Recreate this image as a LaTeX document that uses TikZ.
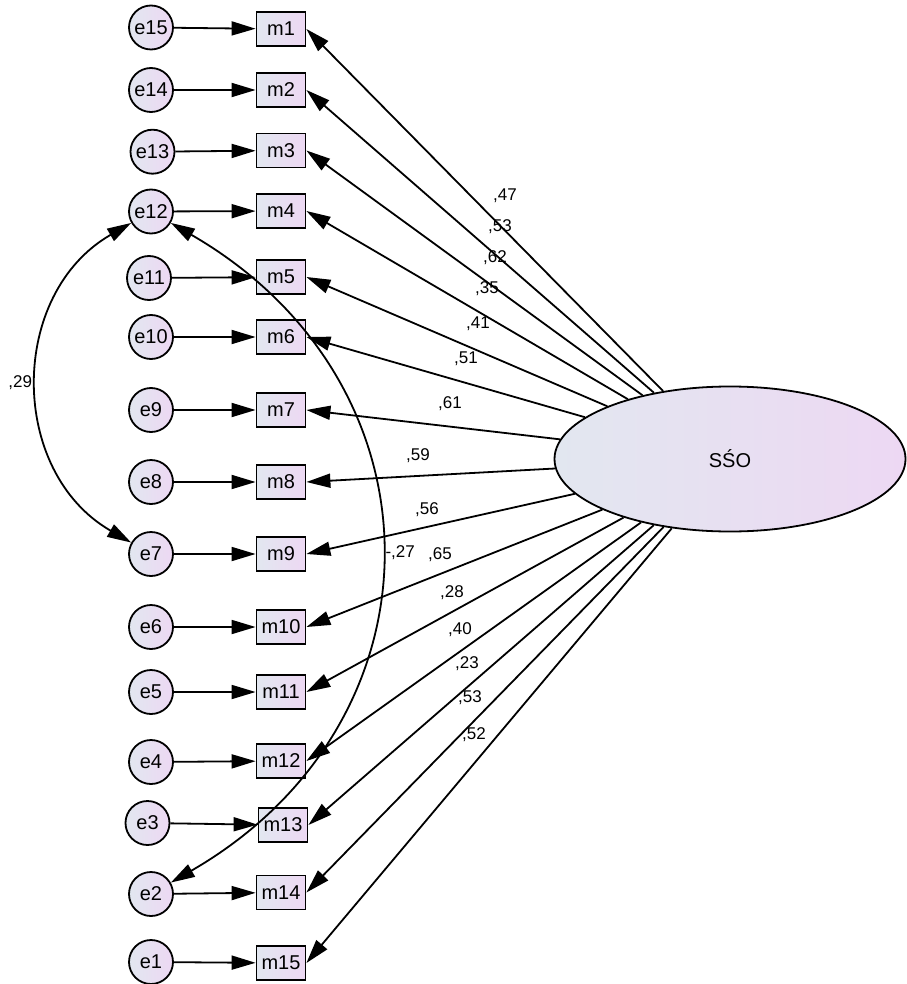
\documentclass[tikz,border=0pt]{standalone}
\usepackage{fontspec}
\setmainfont{Liberation Sans}
\usetikzlibrary{arrows.meta,shapes.geometric}
\definecolor{shadeL}{RGB}{226,231,240}
\definecolor{shadeR}{RGB}{237,216,243}

\begin{document}
\begin{tikzpicture}[x=0.5pt,y=-0.5pt,>={Triangle[length=12pt,width=7pt]},
	every node/.style={font=\fontsize{10}{12}\selectfont},
	err/.style={circle,draw,line width=0.9pt,minimum size=22pt,inner sep=0,
	left color=shadeL,right color=shadeR},
	obs/.style={rectangle,draw,line width=0.9pt,minimum width=24.5pt,minimum height=17pt,
	inner sep=1pt,left color=shadeL,right color=shadeR},
	lat/.style={ellipse,draw,line width=0.9pt,minimum width=175.5pt,minimum height=72.5pt,
	left color=shadeL,right color=shadeR},
	coef/.style={font=\fontsize{8.5}{10}\selectfont,inner sep=0},
	load/.style={->,line width=0.9pt},
	cov/.style={<->,line width=0.9pt}]
\useasboundingbox (0,0) rectangle (906,984);
\node[lat] (sso) at (730,459) {SŚO};
% items and errors
\foreach \i/\ex/\ey/\mx/\my/\c/\lx/\ly in {
	1/151/27.5/281/29/{,47}/505/196, 2/151/90/281/90/{,53}/500/227,
	3/152.5/151.7/281/150.5/{,62}/495/258, 4/151/211.5/281/211/{,35}/487/289,
	5/149/278/281/277/{,41}/478/324, 6/151/337/281/337/{,51}/466/359,
	7/151/410/281/410/{,61}/450/404, 8/151/482/281/482/{,59}/418/456,
	9/151/554/281/554/{,56}/427/510, 10/151/627/281/627/{,65}/440/555,
	11/151/692/281/692/{,28}/452/593, 12/151/762/281/761/{,40}/460/630,
	13/147.5/823/283/825/{,23}/467/664, 14/151/894/281/892.5/{,53}/470/698,
	15/151/962/281/963/{,52}/474/735}{
	\pgfmathtruncatemacro\e{16-\i}
	\node[err] (e\e) at (\ex,\ey) {e\e};
	\node[obs] (m\i) at (\mx,\my) {m\i};
	\draw[load] (e\e) -- (m\i);
	\draw[load] (sso) -- (m\i.east);
	\node[coef] (c\i) at (\lx,\ly) {\c};
}
% correlated errors
\draw[cov] (e12) to[out=210,in=150,looseness=1.14] node[coef,left=3pt] (r1) {,29} (e7);
\draw[cov] (e12) to[out=-30,in=30,looseness=1.25] node[coef,right=2.5pt] (r2) {-,27} (e2);
\end{tikzpicture}
\end{document}
